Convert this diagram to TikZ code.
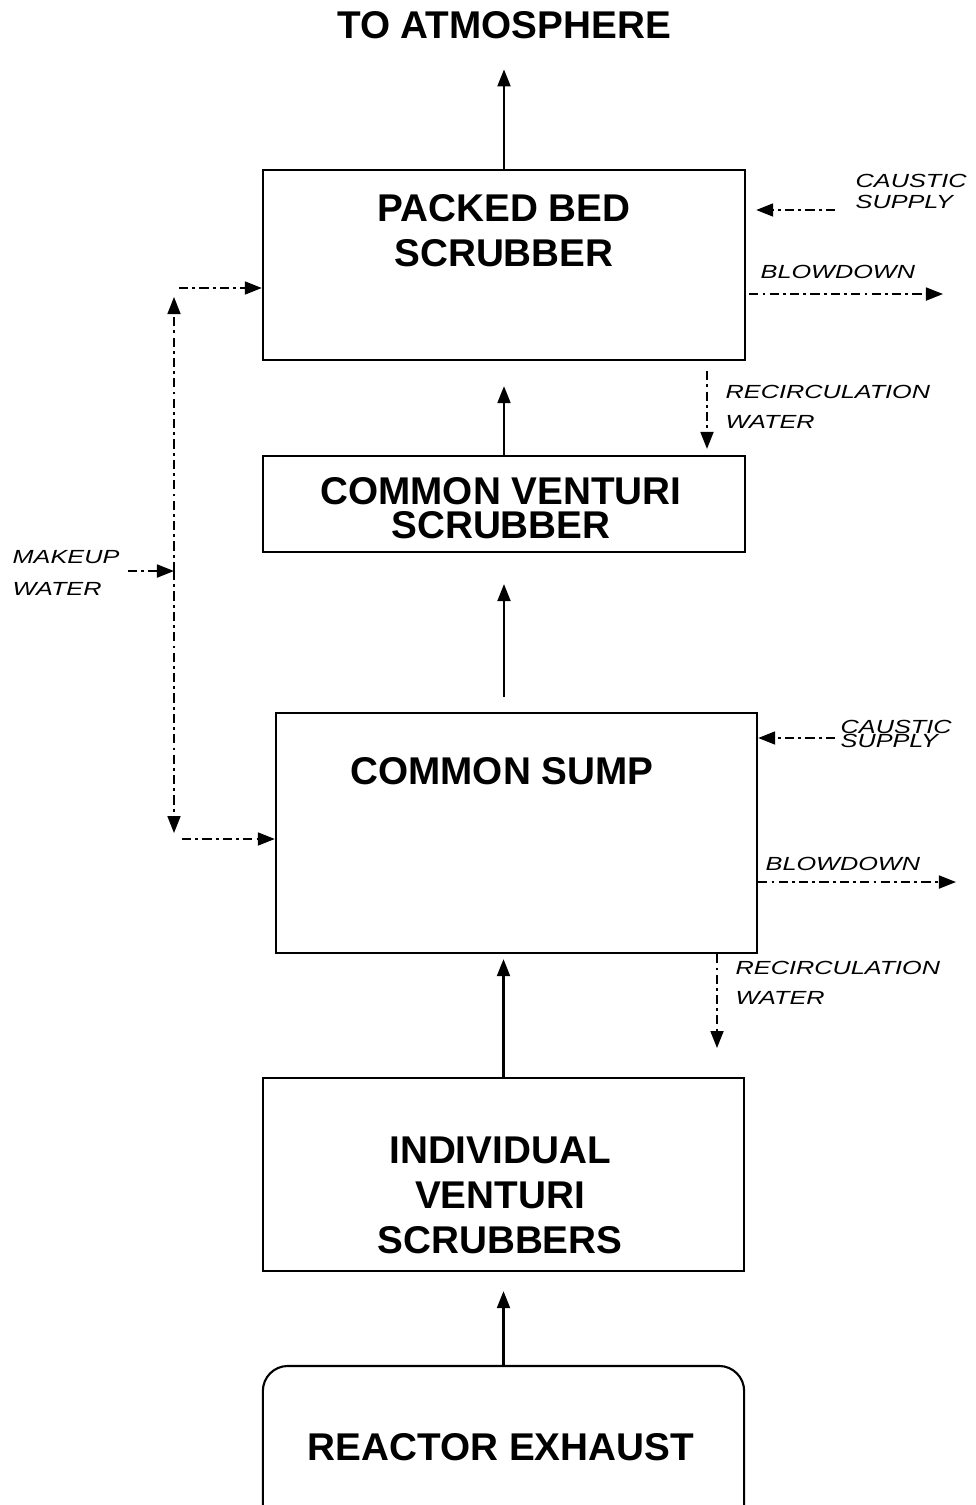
\documentclass[tikz,border=0pt]{standalone}
\usepackage{fontspec}
\setmainfont{Liberation Sans}
\newfontfamily\widefont[FakeStretch=1.33]{Liberation Sans}
\usetikzlibrary{arrows.meta,positioning}

\begin{document}
\begin{tikzpicture}[x=0.01cm, y=-0.01cm,
  box/.style={draw, line width=0.6pt, inner sep=0pt},
  ttl/.style={font=\fontsize{11}{12.8}\selectfont\bfseries, align=center, inner sep=0pt},
  lbl/.style={font=\fontsize{5.4}{8.5}\selectfont\widefont\itshape, align=left, inner sep=0pt, anchor=west},
  arr/.style={-{Triangle[length=1.7mm, width=1.3mm]}, line width=0.6pt},
  flow/.style={arr, line width=0.5pt, dash pattern=on 2.6pt off 1.2pt on 0.8pt off 1.2pt}]
\clip (0,0) rectangle (975,1505);
\node[box, minimum width=4.82cm, minimum height=1.90cm] (pbs) at (504,265) {};
\node[box, minimum width=4.82cm, minimum height=0.96cm] (cvs) at (504,504) {};
\node[box, minimum width=4.81cm, minimum height=2.40cm] (sump) at (516.5,833) {};
\node[box, minimum width=4.81cm, minimum height=1.93cm] (ivs) at (503.5,1174.5) {};
\node[box, rounded corners=0.25cm, minimum width=4.81cm, minimum height=1.70cm] (rex) at (503.5,1451) {};

\node[ttl] (atm) at (504,25) {TO ATMOSPHERE};
\node[ttl] (pbs-t) at (504,231) {PACKED BED\\SCRUBBER};
\node[ttl, font=\fontsize{11}{9.8}\selectfont\bfseries] (cvs-t) at (501,508) {COMMON VENTURI\\SCRUBBER};
\node[ttl] (sump-t) at (502,771) {COMMON SUMP};
\node[ttl] (ivs-t) at (500,1195) {INDIVIDUAL\\VENTURI\\SCRUBBERS};
\node[ttl] (rex-t) at (501,1447) {REACTOR EXHAUST};

\draw[arr, shorten >=0.3cm] (pbs) -- (atm);
\draw[arr, shorten >=0.25cm] (cvs) -- (pbs);
\draw[arr, shorten <=0.15cm, shorten >=0.31cm] (sump.north -| cvs) -- (cvs.south);
\draw[arr, shorten >=0.05cm] (ivs.north) -- (sump.south -| ivs.north);
\draw[arr, shorten >=0.19cm] (rex.north) -- (ivs.south);

\node[lbl, font=\fontsize{5.4}{5.8}\selectfont\widefont\itshape] (cs1) at (855,191.5) {CAUSTIC\\SUPPLY};
\node[lbl] (bd1) at (760,271.5) {BLOWDOWN};
\node[lbl] (rw1) at (725,406.5) {RECIRCULATION\\WATER};
\node[lbl, font=\fontsize{5.4}{9}\selectfont\widefont\itshape] (mw) at (12,573) {MAKEUP\\WATER};
\node[lbl, font=\fontsize{5.4}{4.2}\selectfont\widefont\itshape] (cs2) at (840,734) {CAUSTIC\\SUPPLY};
\node[lbl] (bd2) at (765,863.5) {BLOWDOWN};
\node[lbl] (rw2) at (735,982.5) {RECIRCULATION\\WATER};

\coordinate (cs1-in) at (835,210);
\coordinate (bd1-out) at (943,294);
\coordinate (rw1-x) at (707,400);
\coordinate (mw-out) at (128,571);
\coordinate (mw-in) at (174,571);
\coordinate (mw-top) at (174,288);
\coordinate (mw-bot) at (174,839);
\coordinate (cs2-in) at (835,738);
\coordinate (bd2-out) at (956,882);
\coordinate (rw2-out) at (717,1048);

\draw[flow, shorten >=0.1cm] (cs1-in) -- (cs1-in -| pbs.east);
\draw[flow, shorten <=0.03cm] (bd1-out -| pbs.east) -- (bd1-out);
\draw[flow, shorten <=0.1cm, shorten >=0.06cm] (pbs.south -| rw1-x) -- (cvs.north -| rw1-x);
\draw[flow] (mw-out) -- (mw-in);
\draw[flow, shorten >=0.09cm] (mw-in) -- (mw-top);
\draw[flow, shorten >=0.06cm] (mw-in) -- (mw-bot);
\draw[flow, shorten <=0.05cm] (mw-top) -- (mw-top -| pbs.west);
\draw[flow, shorten <=0.08cm] (mw-bot) -- (mw-bot -| sump.west);
\draw[flow] (cs2-in) -- (cs2-in -| sump.east);
\draw[flow] (bd2-out -| sump.east) -- (bd2-out);
\draw[flow] (sump.south -| rw2-out) -- (rw2-out);
\end{tikzpicture}
\end{document}
